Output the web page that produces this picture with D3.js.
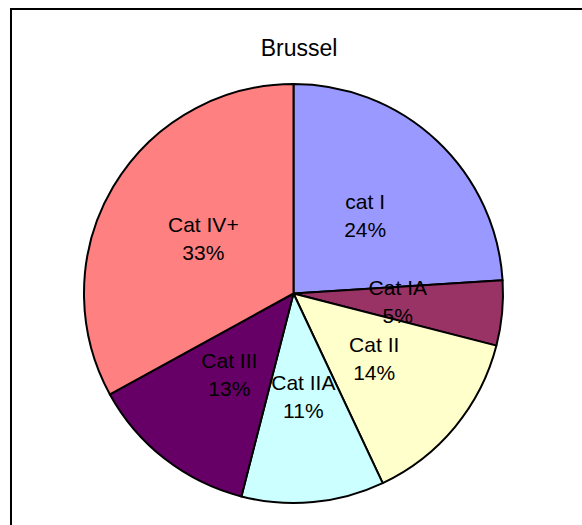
<!DOCTYPE html>
<html>
<head>
<meta charset="utf-8">
<script src="https://cdn.jsdelivr.net/npm/d3@7"></script>
<style>
  body { margin: 0; background: #fff; }
  text { font-family: "Liberation Sans", Arial, sans-serif; fill: #000; }
</style>
</head>
<body>
<div class="chart"></div>
<script>
// data
var categories = ["cat I", "Cat IA", "Cat II", "Cat IIA", "Cat III", "Cat IV+"];
var shares = [24, 5, 14, 11, 13, 33];
var colors = ["#9999ff", "#993366", "#ffffcc", "#ccffff", "#660066", "#ff8080"];
var title = "Brussel";

// setup
var w = 582, h = 525;
var cx = 293.5, cy = 293.5, radius = 209.5;

var svg = d3.select(".chart")
    .append("svg")
    .attr("width", w)
    .attr("height", h);

// chart area border (runs off the right and bottom of the window)
svg.append("rect")
    .attr("x", 11)
    .attr("y", 9)
    .attr("width", 620)
    .attr("height", 560)
    .style("fill", "none")
    .style("stroke", "#000")
    .style("stroke-width", 2);

// title
svg.append("text")
    .attr("x", 299)
    .attr("y", 56)
    .attr("font-size", 23)
    .style("text-anchor", "middle")
    .text(title);

var pie = d3.pie().sort(null).value(function(d) { return d; });
var arc = d3.arc().innerRadius(0).outerRadius(radius);
var labelArc = d3.arc().innerRadius(radius * 0.5).outerRadius(radius * 0.5);

var g = svg.append("g")
    .attr("transform", "translate(" + cx + "," + cy + ")");

var slices = pie(shares);

g.selectAll(".slice")
    .data(slices)
    .enter()
    .append("path")
    .attr("class", "slice")
    .attr("d", arc)
    .style("fill", function(d, i) { return colors[i]; })
    .style("stroke", "#000")
    .style("stroke-width", 2)
    .style("stroke-linejoin", "round");

// labels: name on first line, percent on second
var labels = g.selectAll(".label")
    .data(slices)
    .enter()
    .append("text")
    .attr("class", "label")
    .attr("font-size", 21)
    .style("text-anchor", "middle")
    .attr("transform", function(d) { return "translate(" + labelArc.centroid(d) + ")"; });

labels.append("tspan")
    .attr("x", 0)
    .attr("y", -8)
    .text(function(d, i) { return categories[i]; });

labels.append("tspan")
    .attr("x", 0)
    .attr("y", 20)
    .text(function(d, i) { return shares[i] + "%"; });
</script>
</body>
</html>
